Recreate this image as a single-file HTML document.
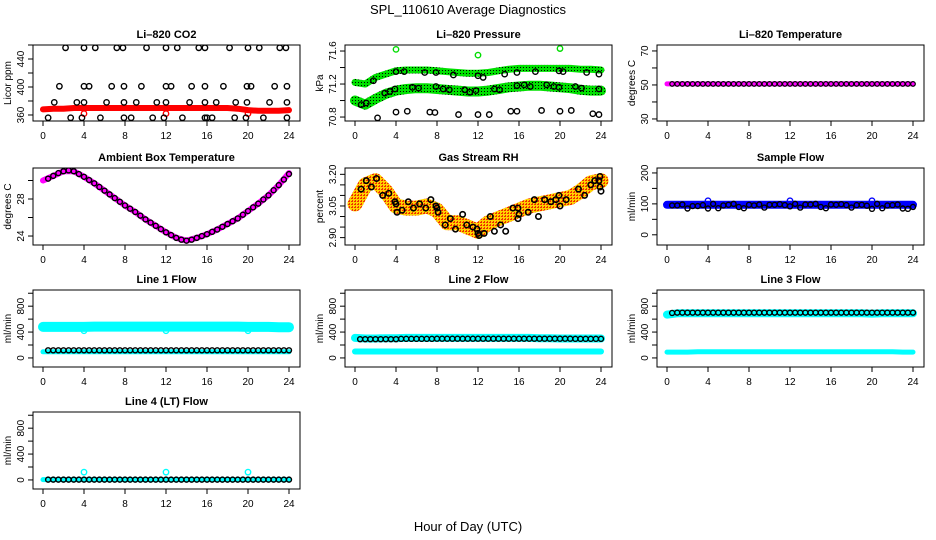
<!DOCTYPE html>
<html><head><meta charset="utf-8"><title>SPL_110610 Average Diagnostics</title>
<style>
html,body{margin:0;padding:0;background:#fff;}
svg{display:block;font-family:"Liberation Sans",Arial,sans-serif;}
</style></head>
<body>
<svg id="chart" width="936" height="540" viewBox="0 0 936 540" xmlns="http://www.w3.org/2000/svg">
<defs>
<pattern id="greenDots" width="3" height="3" patternUnits="userSpaceOnUse"><rect width="3" height="3" fill="#00e000"/><rect x="1" y="1" width="1" height="1" fill="#000"/></pattern>
<pattern id="orangeDots" width="3" height="3" patternUnits="userSpaceOnUse"><rect width="3" height="3" fill="#ffd000"/><rect x="0" y="0" width="2" height="1" fill="#f03000"/><rect x="1" y="2" width="1" height="1" fill="#f03000"/></pattern>
</defs>
<text x="468" y="14" text-anchor="middle" font-size="13">SPL_110610  Average Diagnostics</text>
<text x="468" y="531" text-anchor="middle" font-size="13">Hour of Day (UTC)</text>
</svg>
<script>
// ---------- data ----------
var hours = [0,1,2,3,4,5,6,7,8,9,10,11,12,13,14,15,16,17,18,19,20,21,22,23,24];
var halfHours = [0.5,1,1.5,2,2.5,3,3.5,4,4.5,5,5.5,6,6.5,7,7.5,8,8.5,9,9.5,10,10.5,11,11.5,12,12.5,13,13.5,14,14.5,15,15.5,16,16.5,17,17.5,18,18.5,19,19.5,20,20.5,21,21.5,22,22.5,23,23.5,24];
var spikeHours = [4,12,20];
var xTicks = [0,4,8,12,16,20,24];

// CO2
var co2Band = [368,369,369,370,370,370,370,370,370,370,370,370,370,370,370,370,370,370,370,369,367,366,366,366,367];
var co2Spikes = [362,362,362];
var co2PtT = [2.2,4,5.1,7.2,7.8,10.1,12,13.1,15.2,15.8,18.2,20,21.1,23.1,23.7, 1.6,4,4.5,6.7,7.9,9.6,12,12.5,14.5,15.8,17.6,19.9,20.3,22.6,23.8, 1.1,3.3,4,6.2,7.9,9.1,11.1,12,14.3,15.8,16.9,18.8,19.9,22.1,23.8, 0.5,2.7,3.8,5.6,7.9,8.6,10.7,11.8,13.6,15.8,16,16.5,18.7,19.8,21.5,23.8];
var co2PtV = [456,456,456,456,456,456,456,456,456,456,456,456,456,456,456, 401,401,401,401,401,401,401,401,401,401,401,401,401,401,401, 378,378,378,378,378,378,378,378,378,378,378,378,378,378,378, 356,356,356,356,356,356,356,356,356,356,356,356,356,356,356,356];

// Pressure
var presUpper = [71.22,71.2,71.28,71.32,71.36,71.37,71.37,71.37,71.36,71.35,71.34,71.33,71.33,71.34,71.36,71.38,71.39,71.39,71.39,71.39,71.39,71.39,71.38,71.38,71.37];
var presLower = [71.0,70.95,71.02,71.08,71.12,71.14,71.15,71.15,71.14,71.13,71.12,71.11,71.11,71.12,71.14,71.16,71.17,71.18,71.18,71.17,71.16,71.15,71.13,71.12,71.12];
var presSpikes = [71.62,71.55,71.63];
var presPtT = [2.2,4,5.1,7.3,7.8,10.1,12,13.1,15.2,15.8,18.2,20,21.1,23.2,23.8, 1.8,4,4.8,6.8,7.9,9.6,12,12.5,14.6,15.8,17.6,19.9,20.3,22.6,23.8, 0.6,1.1,2.9,3.4,3.9,5.6,6.2,7.9,8.6,9.2,10.7,11.2,11.8,13.6,14.1,15.8,16.5,17.1,18.7,19.4,19.9,21.5,22.1,23.8];
var presPtV = [70.79,70.86,70.87,70.86,70.855,70.83,70.83,70.83,70.87,70.87,70.88,70.87,70.88,70.84,70.83, 71.24,71.35,71.35,71.34,71.34,71.31,71.30,71.28,71.32,71.34,71.35,71.36,71.35,71.34,71.32, 70.95,70.97,71.09,71.11,71.14,71.16,71.15,71.17,71.14,71.13,71.13,71.10,71.12,71.14,71.13,71.18,71.19,71.17,71.19,71.17,71.16,71.17,71.15,71.14];

// Li-820 temperature
var tempBand = [50.6,50.6,50.6,50.6,50.6,50.6,50.6,50.6,50.6,50.6,50.6,50.6,50.6,50.6,50.6,50.6,50.6,50.6,50.6,50.6,50.6,50.6,50.6,50.6,50.6];
var tempPts = [50.6,50.6,50.6,50.6,50.6,50.6,50.6,50.6,50.6,50.6,50.6,50.6,50.6,50.6,50.6,50.6,50.6,50.6,50.6,50.6,50.6,50.6,50.6,50.6,50.6,50.6,50.6,50.6,50.6,50.6,50.6,50.6,50.6,50.6,50.6,50.6,50.6,50.6,50.6,50.6,50.6,50.6,50.6,50.6,50.6,50.6,50.6,50.6];

// Ambient box temperature
var ambBand = [30.0,30.5,31.0,31.0,30.4,29.7,28.9,28.1,27.3,26.6,25.8,25.1,24.4,23.8,23.5,23.8,24.2,24.7,25.3,25.9,26.7,27.5,28.4,29.5,30.8];
var ambPts = [30.2,30.5,30.8,31.0,31.1,31.0,30.7,30.4,30.05,29.7,29.3,28.9,28.5,28.1,27.7,27.3,26.95,26.6,26.2,25.8,25.45,25.1,24.75,24.4,24.1,23.8,23.6,23.5,23.6,23.8,24.0,24.2,24.45,24.7,25.0,25.3,25.6,25.9,26.3,26.7,27.1,27.5,27.95,28.4,28.95,29.5,30.1,30.7];

// Gas stream RH
var rhBand = [3.06,3.15,3.17,3.12,3.05,3.04,3.04,3.05,3.03,2.97,2.97,2.95,2.93,2.97,2.99,3.01,3.03,3.05,3.06,3.07,3.08,3.09,3.12,3.16,3.17];
var rhPtT = [0.6,1.1,1.6,2.1,2.7,3.3,3.9,4,4.1,4.6,5.2,5.7,6.3,6.9,7.4,7.9,8,8.1,8.8,9.3,9.8,10.5,10.9,11.5,11.9,12,12.1,12.6,13.2,13.6,14.2,14.7,15.4,15.9,15.9,16,16.9,17.5,17.9,18.5,19.1,19.6,19.9,20,20.6,21.8,22.4,23.0,23.4,23.8,23.9,23.9,24];
var rhPtV = [3.13,3.17,3.14,3.18,3.10,3.11,3.07,3.06,3.02,3.03,3.07,3.04,3.06,3.04,3.08,3.05,3.04,3.02,2.96,2.99,2.94,3.01,2.96,2.95,2.94,2.92,2.91,2.92,3.00,2.93,2.96,2.93,3.04,3.04,2.99,3.01,3.02,3.08,3.00,3.08,3.07,3.08,3.10,3.05,3.08,3.13,3.10,3.15,3.17,3.17,3.19,3.14,3.12];

// Sample flow
var sampBand = [97,97,97,97,97,97,97,97,97,97,97,97,97,97,97,97,97,97,97,97,97,97,97,97,97];
var sampSpikes = [110,110,110];
var sampPts = [95,95,98,85,93,93,96,85,100,86,95,97,100,90,86,97,95,98,88,97,97,99,96,92,100,88,98,98,100,90,86,98,97,99,96,88,96,97,94,84,100,86,95,96,98,85,84,90];

// Line flows
var line1Cyan = [480,480,480,480,480,485,485,485,485,485,485,485,485,485,485,485,485,485,485,485,480,480,480,475,475];
var line1Low = [95,95,95,95,95,95,95,95,95,95,95,95,95,95,95,95,95,95,95,95,95,95,95,95,95];
var line1Spikes = [420,420,420];
var line1Pts = [118,118,118,118,118,118,118,118,118,118,118,118,118,118,118,118,118,118,118,118,118,118,118,118,118,118,118,118,118,118,118,118,118,118,118,118,118,118,118,118,118,118,118,118,118,118,118,118];

var line2Cyan = [310,300,300,305,305,310,310,310,310,310,310,310,310,310,310,310,310,310,305,305,300,300,300,300,300];
var line2Low = [100,100,100,100,100,100,100,100,100,100,100,100,100,100,100,100,100,100,100,100,100,100,100,100,100];
var line2Pts = [290,290,290,290,290,290,290,290,295,295,295,295,295,295,295,297,297,297,297,297,297,297,297,297,297,297,297,297,297,297,297,297,297,297,297,297,297,297,297,297,297,297,295,295,295,295,295,295];

var line3Cyan = [670,690,690,690,690,690,690,690,690,690,690,690,690,690,690,690,690,690,690,690,685,690,690,690,690];
var line3Low = [90,90,90,95,95,95,95,95,95,95,95,95,95,95,95,95,95,95,95,95,95,95,95,90,90];
var line3Pts = [695,700,700,700,700,700,700,700,700,700,700,700,700,700,700,700,700,700,700,700,700,700,700,700,700,700,700,700,700,700,700,700,700,700,700,700,700,700,700,700,700,700,700,700,700,700,700,700];

var line4Cyan = [5,5,5,5,5,5,5,5,5,5,5,5,5,5,5,5,5,5,5,5,5,5,5,5,5];
var line4Spikes = [120,120,120];
var line4Pts = [5,5,5,5,5,5,5,5,5,5,5,5,5,5,5,5,5,5,5,5,5,5,5,5,5,5,5,5,5,5,5,5,5,5,5,5,5,5,5,5,5,5,5,5,5,5,5,5];

// ---------- drawing ----------
var NS = "http://www.w3.org/2000/svg";
var svg = document.getElementById("chart");
var colX = [[33,300],[345,612],[657,924]];
var rowY = [[45,121],[168,245],[290,367],[412,489]];

function mk(tag, attrs, parent){
  var e = document.createElementNS(NS, tag);
  for (var k in attrs) e.setAttribute(k, attrs[k]);
  (parent||svg).appendChild(e);
  return e;
}

function makePanel(name, c, r, title, ylab, ymin, ymax, yTicks, yLabels){
  var L = colX[c][0], R = colX[c][1], T = rowY[r][0], B = rowY[r][1];
  var g = mk("g", {});
  
  
  var p = {g:g, L:L, R:R, T:T, B:B,
    x: function(h){ return L + 10 + h * (R - L - 21) / 24; },
    y: function(v){ return B - (v - ymin) / (ymax - ymin) * (B - T); }};
  var clip = mk("clipPath", {id: name + "-clip"}, g);
  mk("rect", {x:L, y:T, width:R-L, height:B-T}, clip);
  p.plot = mk("g", {"clip-path": "url(#" + name + "-clip)"}, g);
  
  
  var box = mk("rect", {x:L, y:T, width:R-L, height:B-T, fill:"none", stroke:"#000", "stroke-width":1}, g);
  
  
  var tt = mk("text", {x:(L+R)/2, y:T-7, "text-anchor":"middle", "font-size":"11", "font-weight":"bold"}, g);
  tt.textContent = title;
  
  
  var yl = mk("text", {transform:"translate(" + (L-22) + "," + ((T+B)/2) + ") rotate(-90)", "text-anchor":"middle", "font-size":"10"}, g);
  yl.textContent = ylab;
  
  
  // x axis
  var xa = mk("line", {x1:p.x(xTicks[0]), x2:p.x(xTicks[xTicks.length-1]), y1:B, y2:B, stroke:"#000"}, g);
  
  
  xTicks.forEach(function(t){
    var tk = mk("line", {x1:p.x(t), x2:p.x(t), y1:B, y2:B+5, stroke:"#000"}, g);
    
    
    var tl = mk("text", {x:p.x(t), y:B+18, "text-anchor":"middle", "font-size":"10"}, g);
    tl.textContent = t;
    
    
  });
  // y axis
  var ya = mk("line", {x1:L, x2:L, y1:p.y(yTicks[0]), y2:p.y(yTicks[yTicks.length-1]), stroke:"#000"}, g);
  
  
  yTicks.forEach(function(t, i){
    var tk = mk("line", {x1:L-5, x2:L, y1:p.y(t), y2:p.y(t), stroke:"#000"}, g);
    
    
    if (yLabels[i] !== "") {
      var tl = mk("text", {transform:"translate(" + (L-9) + "," + p.y(t) + ") rotate(-90)", "text-anchor":"middle", "font-size":"10"}, g);
      tl.textContent = yLabels[i];
      
      
    }
  });
  return p;
}

function band(p, name, xs, vs, color, width){
  var d = "";
  for (var i = 0; i < xs.length; i++) d += (i ? "L" : "M") + p.x(xs[i]).toFixed(1) + "," + p.y(vs[i]).toFixed(1);
  var e = mk("path", {d:d, fill:"none", stroke:color, "stroke-width":width, "stroke-linecap":"round", "stroke-linejoin":"round"}, p.plot);
  
  
}

function points(p, name, xs, vs, color, rad, sw){
  for (var i = 0; i < xs.length; i++) {
    var e = mk("circle", {cx:p.x(xs[i]), cy:p.y(vs[i]), r:rad||2.7, fill:"none", stroke:color||"#000", "stroke-width":sw||1.4}, p.plot);
    
    
  }
}

var flowTicks = [0,200,400,600,800,1000];
var flowLabels = ["0","","400","","800",""];

// CO2
var p1 = makePanel("co2", 0, 0, "Li\u2013820 CO2", "Licor ppm", 351.4, 460, [360,380,400,420,440,460], ["360","","400","","440",""]);
band(p1, "co2-red-band", hours, co2Band, "#ff0000", 6);
points(p1, "co2-red-outlier", spikeHours, co2Spikes, "#ff0000");
points(p1, "co2-point", co2PtT, co2PtV, "#000");

// Pressure
var p2 = makePanel("pressure", 1, 0, "Li\u2013820 Pressure", "kPa", 70.752, 71.673, [70.8,71.0,71.2,71.4,71.6], ["70.8","","71.2","","71.6"]);
band(p2, "pressure-upper-band", hours, presUpper, "url(#greenDots)", 7);
band(p2, "pressure-lower-band", hours, presLower, "url(#greenDots)", 10);
points(p2, "pressure-green-outlier", spikeHours, presSpikes, "#00dd00");
points(p2, "pressure-point", presPtT, presPtV, "#000");

// Li-820 temperature
var p3 = makePanel("li820-temperature", 2, 0, "Li\u2013820 Temperature", "degrees C", 28.8, 73.5, [30,40,50,60,70], ["30","","50","","70"]);
band(p3, "temperature-band", hours, tempBand, "#ff00ff", 5);
points(p3, "temperature-point", halfHours, tempPts, "#000", 2.3, 1.2);

// Ambient
var p4 = makePanel("ambient-temperature", 0, 1, "Ambient Box Temperature", "degrees C", 23.03, 31.35, [24,26,28,30], ["24","","28",""]);
band(p4, "ambient-band", hours, ambBand, "#ff00ff", 6);
points(p4, "ambient-point", halfHours, ambPts, "#000", 2.5, 1.4);

// RH
var p5 = makePanel("gas-rh", 1, 1, "Gas Stream RH", "percent", 2.865, 3.23, [2.90,2.95,3.00,3.05,3.10,3.15,3.20], ["2.90","","","3.05","","","3.20"]);
band(p5, "rh-band", hours, rhBand, "url(#orangeDots)", 15);
points(p5, "rh-point", rhPtT, rhPtV, "#000", 2.7, 1.6);

// Sample flow
var p6 = makePanel("sample-flow", 2, 1, "Sample Flow", "ml/min", -33, 216, [0,50,100,150,200], ["0","","100","","200"]);
band(p6, "sample-band", hours, sampBand, "#0000ff", 8);
points(p6, "sample-blue-outlier", spikeHours, sampSpikes, "#0000ff");
points(p6, "sample-point", halfHours, sampPts, "#000", 2.5, 1.4);

// Line 1
var p7 = makePanel("line1-flow", 0, 2, "Line 1 Flow", "ml/min", -140, 1050, flowTicks, flowLabels);
band(p7, "line1-cyan-band", hours, line1Cyan, "#00ffff", 10);
band(p7, "line1-cyan-low", hours, line1Low, "#00ffff", 5);
points(p7, "line1-cyan-outlier", spikeHours, line1Spikes, "#00ffff");
points(p7, "line1-point", halfHours, line1Pts, "#000", 2.5, 1.4);

// Line 2
var p8 = makePanel("line2-flow", 1, 2, "Line 2 Flow", "ml/min", -140, 1050, flowTicks, flowLabels);
band(p8, "line2-cyan-band", hours, line2Cyan, "#00ffff", 8);
band(p8, "line2-cyan-low", hours, line2Low, "#00ffff", 6);
points(p8, "line2-point", halfHours, line2Pts, "#000", 2.5, 1.4);

// Line 3
var p9 = makePanel("line3-flow", 2, 2, "Line 3 Flow", "ml/min", -140, 1050, flowTicks, flowLabels);
band(p9, "line3-cyan-band", hours, line3Cyan, "#00ffff", 8);
band(p9, "line3-cyan-low", hours, line3Low, "#00ffff", 5);
points(p9, "line3-point", halfHours, line3Pts, "#000", 2.5, 1.4);

// Line 4
var p10 = makePanel("line4-flow", 0, 3, "Line 4 (LT) Flow", "ml/min", -140, 1050, flowTicks, flowLabels);
band(p10, "line4-cyan-band", hours, line4Cyan, "#00ffff", 5);
points(p10, "line4-cyan-outlier", spikeHours, line4Spikes, "#00ffff");
points(p10, "line4-point", halfHours, line4Pts, "#000", 2.5, 1.4);
</script>
</body></html>
